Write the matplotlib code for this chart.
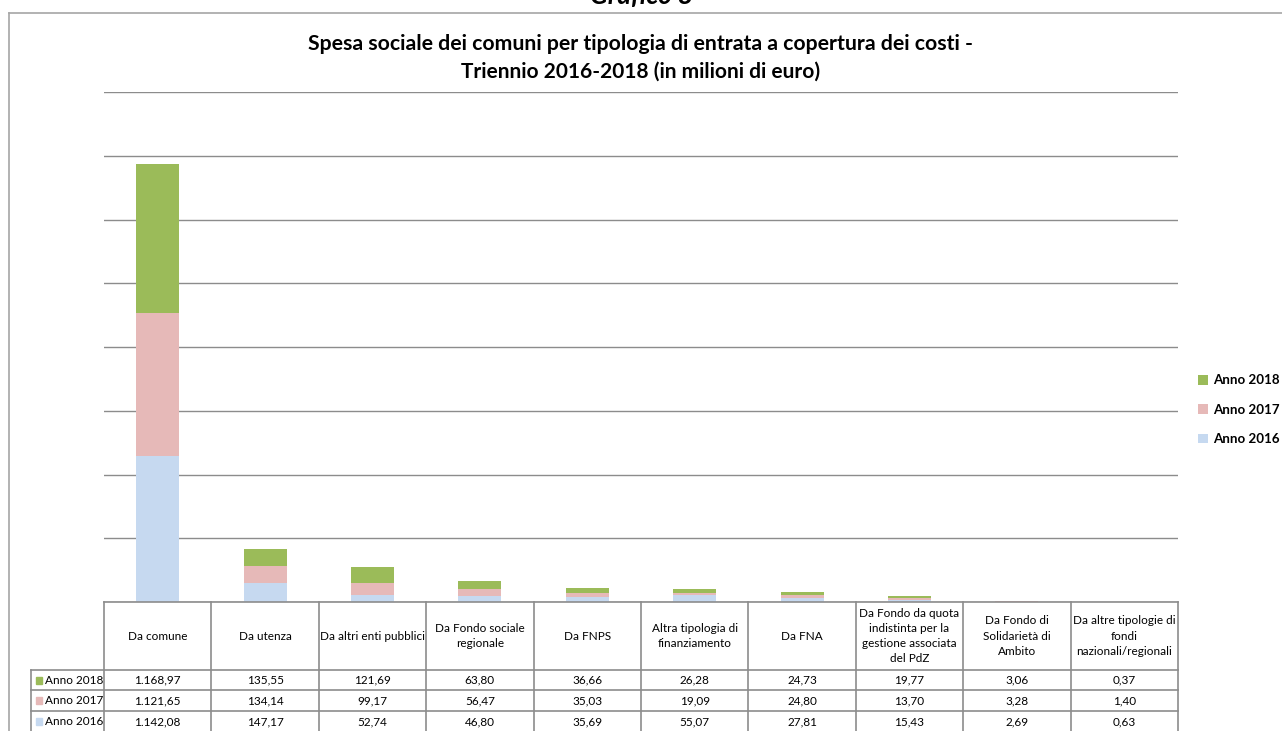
import numpy as np
import matplotlib
matplotlib.use('Agg')
import matplotlib.pyplot as plt
from matplotlib.lines import Line2D
from matplotlib.patches import Rectangle

categories = ['Da comune', 'Da utenza', 'Da altri enti pubblici',
              'Da Fondo sociale\nregionale', 'Da FNPS',
              'Altra tipologia di\nfinanziamento', 'Da FNA',
              'Da Fondo da quota\nindistinta per la\ngestione associata\ndel PdZ',
              'Da Fondo di\nSolidarietà di\nAmbito',
              'Da altre tipologie di\nfondi\nnazionali/regionali']
anno_2018 = [1168.97, 135.55, 121.69, 63.80, 36.66, 26.28, 24.73, 19.77, 3.06, 0.37]
anno_2017 = [1121.65, 134.14, 99.17, 56.47, 35.03, 19.09, 24.80, 13.70, 3.28, 1.40]
anno_2016 = [1142.08, 147.17, 52.74, 46.80, 35.69, 55.07, 27.81, 15.43, 2.69, 0.63]
colors = {'Anno 2018': '#9bbb59', 'Anno 2017': '#e6b9b8', 'Anno 2016': '#c6d9f0'}

W, H = 1282, 731
GRID = '#8c8c8c'
plt.rcParams['font.family'] = ['Lato', 'DejaVu Sans']


def fmt_it(v):
    """ italian number format: 1.168,97 """
    s = f'{v:,.2f}'
    return s.replace(',', 'X').replace('.', ',').replace('X', '.')


fig = plt.figure(figsize=(W / 100, H / 100), dpi=100)

# outer chart frame (runs off the right / bottom edge)
fig.add_artist(Line2D([9 / W, 9 / W], [0, 1 - 13 / H], color='#a6a6a6', lw=1.2, transform=fig.transFigure))
fig.add_artist(Line2D([9 / W, 1], [1 - 13 / H, 1 - 13 / H], color='#a6a6a6', lw=1.2, transform=fig.transFigure))

# page caption above the frame, partly cut off in the original as well
fig.text(0.5, 1 - 4 / H, 'Grafico 8', ha='center', va='baseline', fontsize=19,
         fontweight='bold', style='italic')
fig.text(0.5, 1 - 44 / H, 'Spesa sociale dei comuni per tipologia di entrata a copertura dei costi -',
         ha='center', va='center', fontsize=15.3, fontweight='bold')
fig.text(0.5, 1 - 72 / H, 'Triennio 2016-2018 (in milioni di euro)',
         ha='center', va='center', fontsize=15, fontweight='bold')

# bar chart
left_px, right_px, top_px, base_px = 104, 1178, 92, 602
ax = fig.add_axes([left_px / W, 1 - base_px / H, (right_px - left_px) / W, (base_px - top_px) / H])
x = np.arange(len(categories))
bottom = np.zeros(len(categories))
for name, vals in [('Anno 2016', anno_2016), ('Anno 2017', anno_2017), ('Anno 2018', anno_2018)]:
    ax.bar(x, vals, bottom=bottom, width=0.4, color=colors[name], label=name, zorder=3)
    bottom += np.array(vals)
ax.set_xlim(-0.5, len(categories) - 0.5)
ax.set_ylim(0, 4000)
ax.set_yticks(np.arange(0, 4001, 500))
ax.yaxis.grid(True, color=GRID, lw=1.0, zorder=0)
ax.tick_params(left=False, bottom=False, labelleft=False, labelbottom=False)
for s in ax.spines.values():
    s.set_visible(False)

handles, labels = ax.get_legend_handles_labels()
leg = ax.legend(handles[::-1], labels[::-1], loc='center left', bbox_to_anchor=(1.019, 0.377),
                frameon=False, prop={'weight': 'bold', 'size': 9.6}, borderpad=0, borderaxespad=0,
                handlelength=0.75, handleheight=0.75, handletextpad=0.35, labelspacing=1.3)

# data table
tab_left = 31
unit = (right_px - left_px) / len(categories)
xmin = -0.5 - (left_px - tab_left) / unit
tab = fig.add_axes([tab_left / W, 0, (right_px - tab_left) / W, (H - base_px) / H])
tab.set_xlim(xmin, len(categories) - 0.5)
tab.set_ylim(H - base_px, 0)
tab.axis('off')

head_bot = 68
row_lines = [68, 88, 109, 130]
lc = '#8c8c8c'
tab.plot([-0.5, len(categories) - 0.5], [0, 0], color=lc, lw=1.2, clip_on=False)
for yl in row_lines[:-1]:
    tab.plot([xmin, len(categories) - 0.5], [yl, yl], color=lc, lw=1.2, clip_on=False)
for i in range(len(categories) + 1):
    tab.plot([i - 0.5, i - 0.5], [0, 130], color=lc, lw=1.2, clip_on=False)
tab.plot([xmin, xmin], [head_bot, 130], color=lc, lw=1.2, clip_on=False)

for i, cat in enumerate(categories):
    tab.text(i, head_bot / 2, cat, ha='center', va='center', fontsize=8.5, linespacing=1.45)

rows = [('Anno 2018', anno_2018), ('Anno 2017', anno_2017), ('Anno 2016', anno_2016)]
for r, (name, vals) in enumerate(rows):
    yc = (row_lines[r] + row_lines[r + 1]) / 2
    tab.add_patch(Rectangle((xmin + 0.045, yc - 3.5), 0.06, 7, color=colors[name], clip_on=False))
    tab.text(xmin + 0.13, yc, name, ha='left', va='center', fontsize=8.5)
    for i, v in enumerate(vals):
        tab.text(i, yc, fmt_it(v), ha='center', va='center', fontsize=8.5)

fig.savefig('out.png', dpi=100)
